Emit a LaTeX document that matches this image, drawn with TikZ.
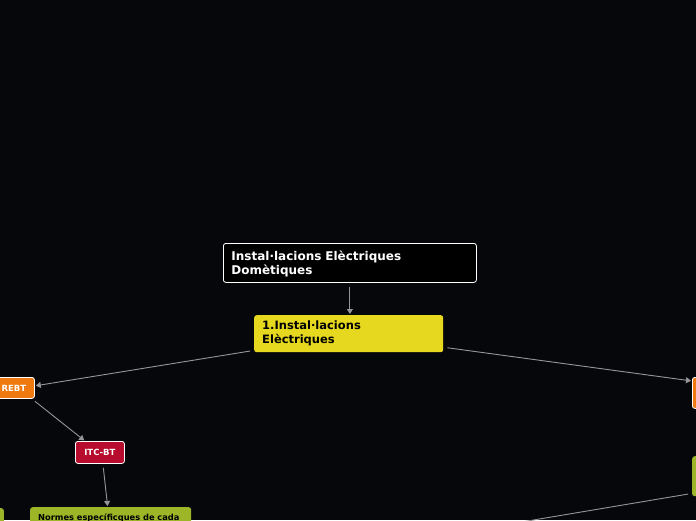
\documentclass[tikz,border=0pt]{standalone}
\usepackage{fontspec}
\setmainfont{DejaVu Sans}
\usetikzlibrary{arrows.meta}
\definecolor{bgdark}{RGB}{6,7,10}
\definecolor{linkgray}{RGB}{150,150,150}
\definecolor{mapyellow}{RGB}{229,216,30}
\definecolor{maporange}{RGB}{238,122,16}
\definecolor{mapred}{RGB}{183,12,46}
\definecolor{mapgreen}{RGB}{157,182,40}

\begin{document}
\begin{tikzpicture}[x=1pt,y=-1pt,
 topic/.style={anchor=north west, rounded corners=2.5pt, inner xsep=8pt, inner ysep=0pt, align=left},
 small/.style={anchor=north west, rounded corners=2.5pt, inner sep=0pt, draw=white, line width=0.8pt, text=white, font=\fontsize{8.5}{10}\selectfont\bfseries},
 link/.style={draw=linkgray, line width=0.9pt, -{Triangle[length=5pt,width=6pt]}, shorten <=4pt, shorten >=1pt}]
 \useasboundingbox (0,0) rectangle (696,520);
 \fill[bgdark] (0,0) rectangle (696,520);
 \clip (0,0) rectangle (696,520);
%
 \node[topic, fill=black, draw=white, line width=0.8pt, text=white, text width=237pt, minimum height=39pt,
   font=\fontsize{12}{14}\selectfont\bfseries] (root) at (223,243) {\rule{0pt}{12pt}Instal·lacions Elèctriques\\Domètiques};
 \node[topic, fill=mapyellow, text=black, text width=173pt, minimum height=37pt,
   font=\fontsize{11.5}{14}\selectfont\bfseries] (elec) at (254,315) {1.Instal·lacions\\Elèctriques};
%
 \node[small, fill=maporange, minimum width=41pt, minimum height=21pt] (rebt) at (-7,377) {REBT};
 \node[small, fill=mapred, minimum width=49pt, minimum height=22pt] (itc) at (75,441) {ITC-BT};
 \node[topic, fill=mapgreen, text=black, text width=145pt, inner ysep=6.5pt,
   font=\fontsize{8.3}{10}\selectfont\bfseries] (normes) at (30,507) {Normes específicques de cada};
 \node[topic, anchor=north east, fill=mapgreen, minimum width=40pt, minimum height=30pt] (lgreen) at (4,508) {};
%
 \node[small, fill=maporange, minimum width=60pt, minimum height=31pt] (rorange) at (692,377) {};
 \node[topic, fill=mapgreen, minimum width=60pt, minimum height=40pt] (rgreen) at (692,456) {};
 \coordinate (rcut) at (450,534);
%
 \draw[link] (root.south) -- (root.south |- elec.north);
 \draw[link] ([yshift=2pt]elec.south west) -- ([yshift=2pt]rebt.east);
 \draw[link] ([yshift=-13.5pt]elec.east) -- ([yshift=-4pt]rorange.north west);
 \draw[link] ([xshift=-3pt]rebt.south east) -- ([xshift=10pt]itc.north west);
 \draw[link] ([xshift=3pt]itc.south) -- ([xshift=-3pt]normes.north);
 \draw[link, -] ([yshift=3pt]rgreen.south west) -- (rcut);
\end{tikzpicture}
\end{document}
